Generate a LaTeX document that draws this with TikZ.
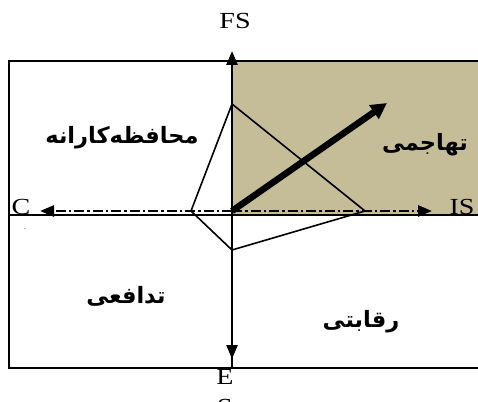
\documentclass[tikz,border=0pt]{standalone}
\usepackage{fontspec}
\setmainfont{Liberation Serif}
\newfontfamily\arabicfont[Script=Arabic]{DejaVu Sans}
\TeXXeTstate=1
\usetikzlibrary{arrows.meta}
\definecolor{tan}{RGB}{196,189,152}
\newcommand{\wide}[1]{\scalebox{1.22}[1]{#1}}
\tikzset{
  frame/.style={line width=2.8pt},
  axisdd/.style={line width=2.6pt, dash pattern=on 10pt off 3pt on 2.5pt off 3pt, -{Triangle[length=14pt,width=11pt]}},
  thin/.style={line width=1.6pt},
  lbl/.style={font=\fontsize{23}{23}\selectfont, inner sep=0pt},
  fa/.style={font=\arabicfont\bfseries\fontsize{22.5}{26}\selectfont, inner sep=0pt},
}
\begin{document}
\begin{tikzpicture}[x=1pt,y=-1pt]
\useasboundingbox (0,0) rectangle (478,401);
\fill[tan] (232,61) rectangle (480,215);
% frame
\draw[frame] (480,61) -- (9,61) -- (9,368) -- (480,368);
\draw[frame] (9,215) -- (480,215);
\draw[frame] (232,61) -- (232,368);
% coordinates
\coordinate (O) at (232,211);
\coordinate (T) at (232,51);
\coordinate (B) at (232,359);
\coordinate (L) at (40,211);
\coordinate (R) at (432,211);
\coordinate (P1) at (232,104);
\coordinate (P2) at (191,211);
\coordinate (P3) at (232,250);
\coordinate (P4) at (365,211);
\coordinate (A) at (387,103);
% kite
\draw[thin] (P1) -- (P2) -- (P3) -- (P4) -- cycle;
% axes
\draw[axisdd] (O) -- (T);
\draw[axisdd] (O) -- (B);
\draw[axisdd] (O) -- (L);
\draw[axisdd] (O) -- (R);
% thick arrow
\draw[line width=6.5pt, -{Triangle[length=16pt,width=16pt]}] (O) -- (A);
% labels
\node[lbl] (fs) at (235,21) {\wide{FS}};
\node[lbl] (c) at (21,207) {\wide{C}};
\node[lbl] (is) at (462,207) {\wide{IS}};
\node[lbl] (e) at (225,377) {\wide{E}};
\node[lbl, anchor=north] (s) at (225,399) {\wide{S}};
\node[font=\fontsize{8}{8}\selectfont, inner sep=0pt] (dot) at (25,229) {.};
% Persian
\node[fa] (q1) at (122,138) {\beginR محافظه‌کارانه\endR};
\node[fa] (q2) at (425,145) {\beginR تهاجمی\endR};
\node[fa] (q3) at (126,296) {\beginR تدافعی\endR};
\node[fa] (q4) at (361,322) {\beginR رقابتی\endR};
\end{tikzpicture}
\end{document}
